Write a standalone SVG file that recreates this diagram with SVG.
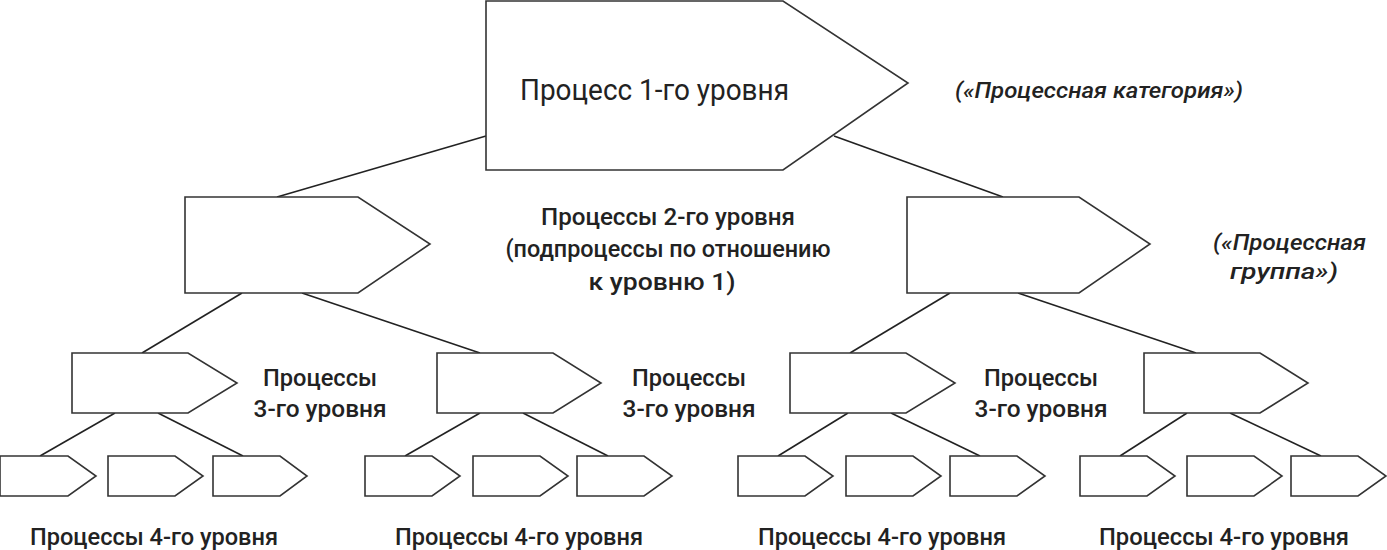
<svg xmlns="http://www.w3.org/2000/svg" width="1387" height="550" viewBox="0 0 1387 550">
<style>
.n{fill:#fff;stroke:#333;stroke-width:1.6}
.c line{stroke:#222;stroke-width:1.6}
text{font-family:"Roboto","Liberation Sans",sans-serif;fill:#222}
.b{font-weight:500;font-size:24px;text-anchor:middle}
.i{font-style:italic;font-weight:500;font-size:22px}
.l4{font-weight:500;font-size:24px;text-anchor:middle}
</style>
<g class="c">
<line x1="486" y1="136" x2="277" y2="197"/><line x1="834" y1="136" x2="1003" y2="197"/>
<line x1="242" y1="293" x2="142" y2="353"/><line x1="302" y1="293" x2="480" y2="353"/>
<line x1="950" y1="293" x2="850" y2="353"/><line x1="1018" y1="293" x2="1196" y2="353"/>
<line x1="115" y1="413" x2="40" y2="456"/><line x1="158" y1="413" x2="243" y2="456"/>
<line x1="480" y1="413" x2="405" y2="456"/><line x1="523" y1="413" x2="608" y2="456"/>
<line x1="848" y1="413" x2="778" y2="456"/><line x1="891" y1="413" x2="980" y2="456"/>
<line x1="1187" y1="413" x2="1120" y2="456"/><line x1="1230" y1="413" x2="1321" y2="456"/>
</g>
<g id="n1"><polygon class="n" points="486,1 783,1 908,83 783,170 486,170"/><text x="520" y="100" font-size="30" textLength="269" lengthAdjust="spacingAndGlyphs">Процесс 1-го уровня</text></g>
<g id="n2a"><polygon class="n" points="185,197 358,197 430,244 358,293 185,293"/></g>
<g id="n2b"><polygon class="n" points="907,197 1079,197 1150,244 1079,293 907,293"/></g>
<g id="n3a"><polygon class="n" points="72,353 188,353 237,383 188,413 72,413"/></g>
<g id="n3b"><polygon class="n" points="437,353 553,353 601,383 553,413 437,413"/></g>
<g id="n3c"><polygon class="n" points="790,353 906,353 955,383 906,413 790,413"/></g>
<g id="n3d"><polygon class="n" points="1144,353 1260,353 1308,383 1260,413 1144,413"/></g>
<g id="n4">
<polygon class="n" points="0,456 68,456 96,476 68,496 0,496"/>
<polygon class="n" points="108,456 175,456 203,476 175,496 108,496"/>
<polygon class="n" points="213,456 280,456 307,476 280,496 213,496"/>
<polygon class="n" points="365,456 432,456 460,476 432,496 365,496"/>
<polygon class="n" points="473,456 540,456 568,476 540,496 473,496"/>
<polygon class="n" points="577,456 644,456 672,476 644,496 577,496"/>
<polygon class="n" points="738,456 805,456 833,476 805,496 738,496"/>
<polygon class="n" points="846,456 913,456 941,476 913,496 846,496"/>
<polygon class="n" points="950,456 1017,456 1045,476 1017,496 950,496"/>
<polygon class="n" points="1080,456 1147,456 1175,476 1147,496 1080,496"/>
<polygon class="n" points="1187,456 1254,456 1282,476 1254,496 1187,496"/>
<polygon class="n" points="1291,456 1358,456 1386,476 1358,496 1291,496"/>
</g>
<g id="labels">
<text class="i" x="955" y="98" textLength="288" lengthAdjust="spacingAndGlyphs">(«Процессная категория»)</text>
<text class="b" x="668" y="225" textLength="254" lengthAdjust="spacingAndGlyphs">Процессы 2-го уровня</text>
<text class="b" x="668" y="257" textLength="325" lengthAdjust="spacingAndGlyphs">(подпроцессы по отношению</text>
<text class="b" x="662" y="290" textLength="147" lengthAdjust="spacingAndGlyphs">к уровню 1)</text>
<text class="i" x="1213" y="250" textLength="153" lengthAdjust="spacingAndGlyphs">(«Процессная</text>
<text class="i" x="1230" y="279" textLength="108" lengthAdjust="spacingAndGlyphs">группа»)</text>
<text class="b" x="320" y="386" textLength="114" lengthAdjust="spacingAndGlyphs">Процессы</text>
<text class="b" x="320" y="417" textLength="133" lengthAdjust="spacingAndGlyphs">3-го уровня</text>
<text class="b" x="689" y="386" textLength="114" lengthAdjust="spacingAndGlyphs">Процессы</text>
<text class="b" x="689" y="417" textLength="133" lengthAdjust="spacingAndGlyphs">3-го уровня</text>
<text class="b" x="1041" y="386" textLength="114" lengthAdjust="spacingAndGlyphs">Процессы</text>
<text class="b" x="1041" y="417" textLength="133" lengthAdjust="spacingAndGlyphs">3-го уровня</text>
<text class="l4" x="154" y="545" textLength="248" lengthAdjust="spacingAndGlyphs">Процессы 4-го уровня</text>
<text class="l4" x="519" y="545" textLength="248" lengthAdjust="spacingAndGlyphs">Процессы 4-го уровня</text>
<text class="l4" x="882" y="545" textLength="248" lengthAdjust="spacingAndGlyphs">Процессы 4-го уровня</text>
<text class="l4" x="1224" y="545" textLength="250" lengthAdjust="spacingAndGlyphs">Процессы 4-го уровня</text>
</g>
</svg>
